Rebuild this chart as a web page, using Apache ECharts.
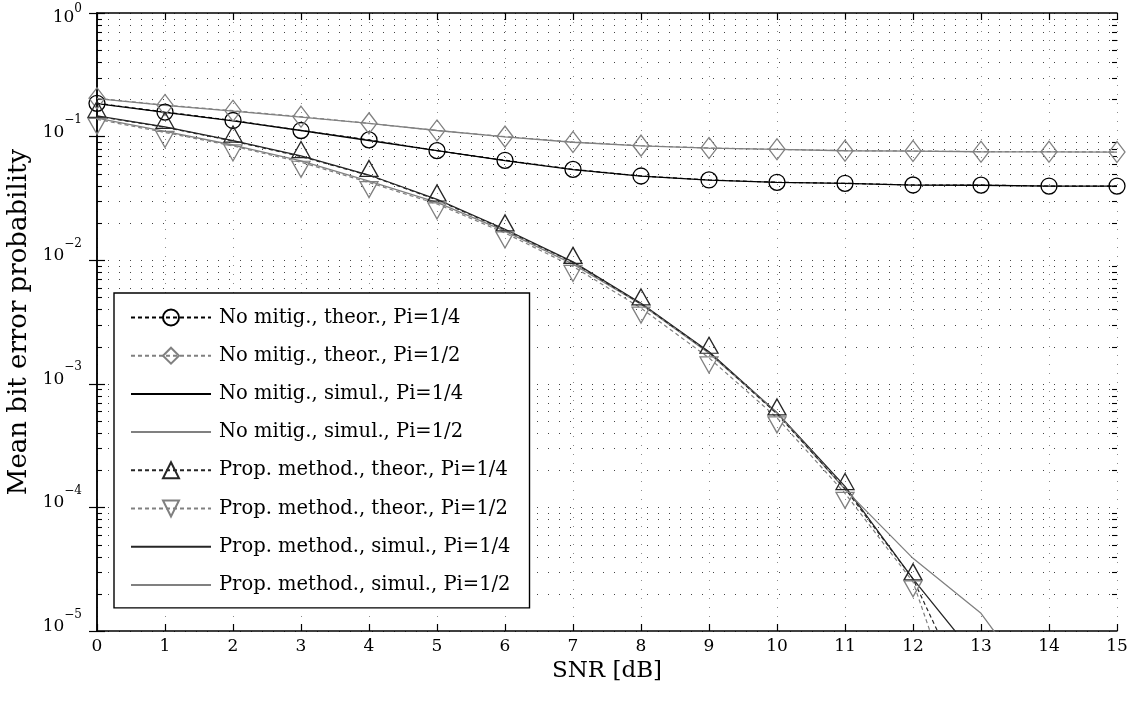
<!DOCTYPE html>
<html>
<head>
<meta charset="utf-8">
<script src="https://cdn.jsdelivr.net/npm/echarts@6/dist/echarts.min.js"></script>
<style>
  html, body { margin: 0; padding: 0; background: #fff; }
  #chart { width: 1128px; height: 704px; }
</style>
</head>
<body>
<div id="chart"></div>
<script>
// SNR axis (dB)
const snr = [0, 1, 2, 3, 4, 5, 6, 7, 8, 9, 10, 11, 12, 13, 14, 15];

// Mean bit error probability, no mitigation
const noMitTheorQuarter = [0.186, 0.158, 0.135, 0.112, 0.094, 0.077, 0.0643, 0.0543, 0.048, 0.0446, 0.0427, 0.0419, 0.0406, 0.0405, 0.0398, 0.0398];
const noMitTheorHalf    = [0.204, 0.180, 0.162, 0.145, 0.128, 0.112, 0.100, 0.0904, 0.0845, 0.0809, 0.0789, 0.0769, 0.0765, 0.0755, 0.0755, 0.0750];
const noMitSimQuarter   = [0.185, 0.157, 0.134, 0.112, 0.093, 0.077, 0.0640, 0.0540, 0.0478, 0.0445, 0.0426, 0.0418, 0.0405, 0.0404, 0.0398, 0.0397];
const noMitSimHalf      = [0.203, 0.179, 0.161, 0.144, 0.128, 0.112, 0.0995, 0.0900, 0.0842, 0.0806, 0.0787, 0.0768, 0.0763, 0.0754, 0.0753, 0.0749];

// Mean bit error probability, proposed method
const propTheorQuarter = [0.146, 0.119, 0.092, 0.069, 0.0485, 0.0307, 0.0176, 0.0096, 0.00443, 0.00180, 5.7e-4, 1.42e-4, 2.64e-5, 1.78e-6];
const propTheorHalf    = [0.138, 0.108, 0.084, 0.062, 0.0425, 0.0285, 0.0166, 0.0089, 0.0041, 0.00162, 5.3e-4, 1.30e-4, 2.5e-5, 6.3e-7];
const propSimQuarter   = [0.147, 0.120, 0.0927, 0.0697, 0.0489, 0.0310, 0.0178, 0.0097, 0.00448, 0.00182, 5.84e-4, 1.48e-4, 2.64e-5, 5.5e-6];
const propSimHalf      = [0.141, 0.110, 0.0855, 0.0635, 0.0437, 0.0294, 0.0172, 0.0093, 0.0044, 0.00177, 5.8e-4, 1.40e-4, 3.87e-5, 1.39e-5, 2.47e-6];

// Axis structure
const yMin = 1e-5, yMax = 1;
const decades = [1e-5, 1e-4, 1e-3, 1e-2, 1e-1];
const minorSteps = [2, 3, 4, 5, 6, 7, 8, 9];

const legendNames = [
  'No mitig., theor., Pi=1/4',
  'No mitig., theor., Pi=1/2',
  'No mitig., simul., Pi=1/4',
  'No mitig., simul., Pi=1/2',
  'Prop. method., theor., Pi=1/4',
  'Prop. method., theor., Pi=1/2',
  'Prop. method., simul., Pi=1/4',
  'Prop. method., simul., Pi=1/2'
];
const plainLineEntries = [2, 3, 6, 7];

const FONT = 'DejaVu Serif';
const BLACK = '#000000';
const DARK = '#262626';
const GRAY = '#808080';
const HDOTS = [1, 10];
const VDOTS = [1, 8];

const pairs = (ys) => ys.map((v, i) => [snr[i], v]);

const minorValues = [];
decades.forEach(d => minorSteps.forEach(m => minorValues.push([0, d * m])));

function simSeries(name, ys, color) {
  return {
    name, type: 'line', data: pairs(ys), symbol: 'none', z: 3,
    lineStyle: { color, width: 1.3, type: 'solid' },
    itemStyle: { color },
    clip: true, silent: true
  };
}

function theorSeries(name, ys, color, symbol, size, rotate, offset) {
  return {
    name, type: 'line', data: pairs(ys), z: 4,
    symbol, symbolSize: size, symbolRotate: rotate, symbolOffset: offset,
    showAllSymbol: true,
    lineStyle: { color, width: 1.2, type: [4, 3] },
    itemStyle: { color: 'rgba(255,255,255,0)', borderColor: color, borderWidth: 1.3 },
    clip: true, silent: true
  };
}

// power-of-ten tick label with a raised exponent
function powerLabel(v) {
  const e = Math.round(Math.log10(v));
  if (e === 0) return '{b0|10}{e0|0}';
  return '{b|10}{e|' + (e < 0 ? '\u2212' + (-e) : e) + '}';
}

const chart = echarts.init(document.getElementById('chart'), null, { renderer: 'canvas' });

chart.setOption({
  backgroundColor: '#ffffff',
  animation: false,
  grid: { left: 97, top: 13, width: 1020, height: 618, containLabel: false, outerBoundsMode: 'none' },
  legend: {
    orient: 'vertical',
    left: 114, top: 293,
    padding: [14.5, 19, 13, 16],
    itemGap: 18.2,
    itemWidth: 80, itemHeight: 20,
    backgroundColor: '#ffffff',
    borderColor: '#000000', borderWidth: 1.4, borderRadius: 0,
    textStyle: { fontFamily: FONT, fontSize: 19.5, color: '#000', lineHeight: 20, padding: [0, 0, 0, 3] },
    data: legendNames.map((name, i) => plainLineEntries.includes(i)
      ? { name, itemStyle: { color: 'rgba(0,0,0,0)', borderWidth: 0, opacity: 0 } }
      : { name }),
    selectedMode: false
  },
  xAxis: [{
    type: 'value', min: 0, max: 15, interval: 1,
    name: 'SNR [dB]', nameLocation: 'middle', nameGap: 20,
    nameTextStyle: { fontFamily: FONT, fontSize: 23, color: '#000' },
    axisLine: { show: true, lineStyle: { color: '#000', width: 1.5 } },
    axisTick: { show: true, inside: true, length: 7, lineStyle: { color: '#000', width: 1.2 } },
    axisLabel: { fontFamily: FONT, fontSize: 17, color: '#000', margin: 7 },
    splitLine: { show: true, lineStyle: { color: '#8a8a8a', width: 1, type: VDOTS } }
  }, {
    type: 'value', min: 0, max: 15, interval: 1, position: 'top',
    axisLine: { show: true, lineStyle: { color: '#000', width: 1.5 } },
    axisTick: { show: true, inside: true, length: 7, lineStyle: { color: '#000', width: 1.2 } },
    axisLabel: { show: false },
    splitLine: { show: false }
  }],
  yAxis: [{
    type: 'log', min: yMin, max: yMax, logBase: 10,
    name: 'Mean bit error probability', nameLocation: 'middle', nameGap: 62,
    nameTextStyle: { fontFamily: FONT, fontSize: 26, color: '#000' },
    axisLine: { show: true, lineStyle: { color: '#000', width: 1.5 } },
    axisTick: { show: true, inside: true, length: 8, lineStyle: { color: '#000', width: 1.2 } },
    axisLabel: {
      margin: 15,
      padding: [0, 0, 9, 0],
      formatter: powerLabel,
      rich: {
        b: { fontFamily: FONT, fontSize: 17, color: '#000', lineHeight: 36, verticalAlign: 'middle' },
        e: { fontFamily: FONT, fontSize: 12, color: '#000', lineHeight: 10, verticalAlign: 'top' },
        b0: { fontFamily: FONT, fontSize: 17, color: '#000', lineHeight: 20, verticalAlign: 'bottom' },
        e0: { fontFamily: FONT, fontSize: 12, color: '#000', lineHeight: 36, verticalAlign: 'middle' }
      }
    },
    splitLine: { show: true, lineStyle: { color: '#444', width: 1, type: HDOTS } }
  }, {
    type: 'log', min: yMin, max: yMax, logBase: 10, position: 'right',
    axisLine: { show: true, lineStyle: { color: '#000', width: 1.5 } },
    axisTick: { show: true, inside: true, length: 8, lineStyle: { color: '#000', width: 1.2 } },
    axisLabel: { show: false },
    splitLine: { show: false }
  }],
  series: [
    // minor decade grid lines and inward minor ticks on both vertical axes
    {
      type: 'custom', silent: true, z: 1, clip: false,
      data: minorValues,
      encode: { x: 0, y: 1 },
      renderItem: (params, api) => {
        const cs = params.coordSys;
        const y = Math.round(api.coord([0, api.value(1)])[1]) + 0.5;
        const x0 = cs.x, x1 = cs.x + cs.width;
        return {
          type: 'group',
          children: [
            { type: 'line', shape: { x1: x0, y1: y, x2: x1, y2: y },
              style: { stroke: '#444', lineWidth: 1, lineDash: HDOTS } },
            { type: 'line', shape: { x1: x0, y1: y, x2: x0 + 5, y2: y },
              style: { stroke: '#000', lineWidth: 1.1 } },
            { type: 'line', shape: { x1: x1 - 5, y1: y, x2: x1, y2: y },
              style: { stroke: '#000', lineWidth: 1.1 } }
          ]
        };
      }
    },
    simSeries(legendNames[2], noMitSimQuarter, BLACK),
    simSeries(legendNames[3], noMitSimHalf, GRAY),
    simSeries(legendNames[6], propSimQuarter, DARK),
    simSeries(legendNames[7], propSimHalf, GRAY),
    theorSeries(legendNames[0], noMitTheorQuarter, BLACK, 'circle', 16, 0, [0, 0]),
    theorSeries(legendNames[1], noMitTheorHalf, GRAY, 'diamond', [16, 21], 0, [0, 0]),
    theorSeries(legendNames[4], propTheorQuarter, DARK, 'triangle', [18, 16], 0, [0, -7]),
    theorSeries(legendNames[5], propTheorHalf, GRAY, 'triangle', [18, 16], 180, [0, 7])
  ]
});
</script>
</body>
</html>
